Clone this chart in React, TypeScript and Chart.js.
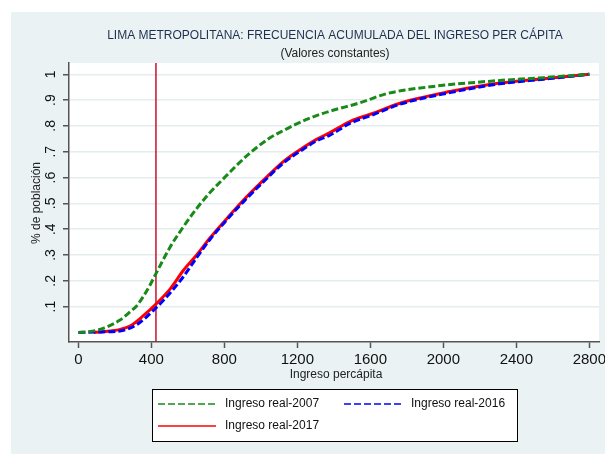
import { useEffect, useRef } from 'react';
import { Chart, registerables } from 'chart.js';

Chart.register(...registerables);

// Ingreso real-2007 (green, dashed)
const ingreso2007 = [0, 60, 136, 228, 283, 319, 356, 392, 425, 502, 575, 648, 712, 794, 867, 940, 1050, 1123, 1196, 1305, 1378, 1545, 1690, 1945, 2310, 2550, 2800];
const acum2007 = [0, 0.003, 0.016, 0.048, 0.08, 0.103, 0.14, 0.183, 0.228, 0.33, 0.409, 0.48, 0.535, 0.595, 0.647, 0.695, 0.754, 0.782, 0.808, 0.84, 0.857, 0.89, 0.925, 0.953, 0.976, 0.987, 1.0];

// Ingreso real-2016 (blue, dashed)
const ingreso2016 = [0, 100, 228, 319, 410, 484, 575, 648, 721, 812, 904, 1013, 1123, 1232, 1305, 1378, 1488, 1620, 1762, 2036, 2310, 2550, 2800];
const acum2016 = [0, 0.002, 0.006, 0.03, 0.085, 0.138, 0.216, 0.29, 0.36, 0.435, 0.506, 0.583, 0.656, 0.71, 0.742, 0.764, 0.81, 0.845, 0.884, 0.929, 0.963, 0.981, 1.0];

// Ingreso real-2017 (red, solid)
const ingreso2017 = [85, 173, 230, 283, 356, 425, 502, 575, 648, 721, 812, 904, 1013, 1123, 1232, 1305, 1378, 1488, 1620, 1762, 2036, 2310, 2550, 2800];
const acum2017 = [0, 0.006, 0.012, 0.025, 0.065, 0.11, 0.168, 0.24, 0.3, 0.366, 0.44, 0.512, 0.589, 0.662, 0.716, 0.748, 0.774, 0.817, 0.85, 0.888, 0.933, 0.966, 0.983, 1.0];

const xTickValues = [0, 400, 800, 1200, 1600, 2000, 2400, 2800];
const yTickValues = [0.1, 0.2, 0.3, 0.4, 0.5, 0.6, 0.7, 0.8, 0.9, 1.0];
const lineaReferencia = 425;

const titulo = 'LIMA METROPOLITANA: FRECUENCIA ACUMULADA DEL INGRESO PER CÁPITA';
const subtitulo = '(Valores constantes)';
const tituloX = 'Ingreso percápita';
const tituloY = '% de población';
const series = ['Ingreso real-2007', 'Ingreso real-2016', 'Ingreso real-2017'];

const GREEN = '#188a18';
const BLUE = '#0000ff';
const RED = '#ff0000';
const FONT = '"Liberation Sans", Arial, sans-serif';

function toPoints(xs: number[], ys: number[]) {
  return xs.map((x, i) => ({ x, y: ys[i] }));
}

function fmtY(v: number) {
  if (Math.abs(v - 1) < 1e-9) return '1';
  return '.' + Math.round(v * 10);
}

export default function App() {
  const ref = useRef<HTMLCanvasElement>(null);

  useEffect(() => {
    const canvas = ref.current!;
    const decor = {
      id: 'decor',
      beforeDraw(chart: any) {
        const { ctx, chartArea: a } = chart;
        ctx.save();
        ctx.fillStyle = '#ffffff';
        ctx.fillRect(0, 0, chart.width, chart.height);
        ctx.fillStyle = '#eaf2f3';
        ctx.fillRect(11, 12, chart.width - 11, chart.height - 12);
        ctx.fillStyle = '#ffffff';
        ctx.fillRect(a.left, a.top, a.right - a.left, a.bottom - a.top);
        ctx.restore();
      },
      beforeDatasetsDraw(chart: any) {
        const { ctx, chartArea: a, scales } = chart;
        const x = scales.x.getPixelForValue(lineaReferencia);
        ctx.save();
        ctx.strokeStyle = '#c8102e';
        ctx.lineWidth = 1.5;
        ctx.beginPath();
        ctx.moveTo(x, a.top);
        ctx.lineTo(x, a.bottom);
        ctx.stroke();
        ctx.restore();
      },
      afterDraw(chart: any) {
        const { ctx, scales } = chart;
        ctx.save();
        ctx.textAlign = 'center';
        ctx.textBaseline = 'middle';
        // titles
        ctx.font = `12px ${FONT}`;
        ctx.fillStyle = '#1e3050';
        ctx.fillText(titulo, 335, 36);
        ctx.fillStyle = '#222222';
        ctx.fillText(subtitulo, 335, 54);
        // x title
        ctx.fillStyle = '#222222';
        ctx.fillText(tituloX, 336, 375);
        // y title
        ctx.save();
        ctx.translate(37, 203);
        ctx.rotate(-Math.PI / 2);
        ctx.fillText(tituloY, 0, 0);
        ctx.restore();
        // y tick labels rotated
        ctx.font = `14px ${FONT}`;
        ctx.fillStyle = '#111111';
        yTickValues.forEach((v) => {
          const y = scales.y.getPixelForValue(v);
          ctx.save();
          ctx.translate(51, y);
          ctx.rotate(-Math.PI / 2);
          ctx.fillText(fmtY(v), 0, 0);
          ctx.restore();
        });
        // legend
        const lx = 152, ly = 389, lw = 365, lh = 52;
        ctx.fillStyle = '#ffffff';
        ctx.fillRect(lx, ly, lw, lh);
        ctx.strokeStyle = '#000000';
        ctx.lineWidth = 1;
        ctx.strokeRect(lx + 0.5, ly + 0.5, lw, lh);
        const items = [
          { label: series[0], color: GREEN, dash: [7, 3], x: 158, y: 404 },
          { label: series[1], color: BLUE, dash: [7, 3], x: 344, y: 404 },
          { label: series[2], color: RED, dash: [], x: 158, y: 426 },
        ];
        items.forEach((it) => {
          ctx.strokeStyle = it.color;
          ctx.lineWidth = 1.5;
          ctx.setLineDash(it.dash);
          ctx.beginPath();
          ctx.moveTo(it.x, it.y);
          ctx.lineTo(it.x + 58, it.y);
          ctx.stroke();
          ctx.setLineDash([]);
          ctx.font = `12px ${FONT}`;
          ctx.fillStyle = '#111111';
          ctx.textAlign = 'left';
          ctx.fillText(it.label, it.x + 67, it.y);
        });
        ctx.restore();
      },
    };

    const chart = new Chart(canvas, {
      type: 'line',
      data: {
        datasets: [
          {
            label: series[0],
            data: toPoints(ingreso2007, acum2007),
            borderColor: GREEN,
            borderWidth: 3,
            borderDash: [7, 3],
            pointRadius: 0,
            cubicInterpolationMode: 'monotone',
            fill: false,
          },
          {
            label: series[1],
            data: toPoints(ingreso2016, acum2016),
            borderColor: BLUE,
            borderWidth: 3,
            borderDash: [7, 3],
            pointRadius: 0,
            cubicInterpolationMode: 'monotone',
            fill: false,
          },
          {
            label: series[2],
            data: toPoints(ingreso2017, acum2017),
            borderColor: RED,
            borderWidth: 3,
            pointRadius: 0,
            cubicInterpolationMode: 'monotone',
            fill: false,
          },
        ],
      },
      options: {
        animation: false,
        responsive: false,
        devicePixelRatio: 1,
        layout: { padding: { left: 0, right: 6, top: 63, bottom: 0 } },
        plugins: {
          legend: { display: false },
          tooltip: { enabled: false },
          title: { display: false },
        },
        scales: {
          x: {
            type: 'linear',
            min: -51.5,
            max: 2853,
            afterBuildTicks: (s: any) => {
              s.ticks = xTickValues.map((v) => ({ value: v }));
            },
            afterFit: (s: any) => {
              s.height = 112;
              s.paddingLeft = 0;
              s.paddingRight = 0;
            },
            grid: {
              drawOnChartArea: false,
              drawTicks: true,
              tickLength: 6,
              tickColor: '#555555',
              tickWidth: 1.5,
            },
            border: { color: '#555555', width: 1.5 },
            ticks: {
              maxRotation: 0,
              minRotation: 0,
              padding: 3,
              color: '#111111',
              font: { family: FONT, size: 15 },
              callback: (v: any) => String(v),
            },
          },
          y: {
            type: 'linear',
            min: -0.0368,
            max: 1.0437,
            afterBuildTicks: (s: any) => {
              s.ticks = yTickValues.map((v) => ({ value: v }));
            },
            afterFit: (s: any) => {
              s.width = 69;
              s.paddingTop = 0;
              s.paddingBottom = 0;
            },
            grid: {
              color: '#e3ecee',
              lineWidth: 1.5,
              drawTicks: true,
              tickLength: 6,
              tickColor: '#555555',
              tickWidth: 1.5,
            },
            border: { color: '#555555', width: 1.5 },
            ticks: { display: false },
          },
        },
      },
      plugins: [decor],
    } as any);

    return () => chart.destroy();
  }, []);

  return (
    <div style={{ position: 'absolute', left: 0, top: 0, width: 605, height: 454 }}>
      <canvas ref={ref} width={605} height={454} style={{ display: 'block', width: 605, height: 454 }} />
    </div>
  );
}
